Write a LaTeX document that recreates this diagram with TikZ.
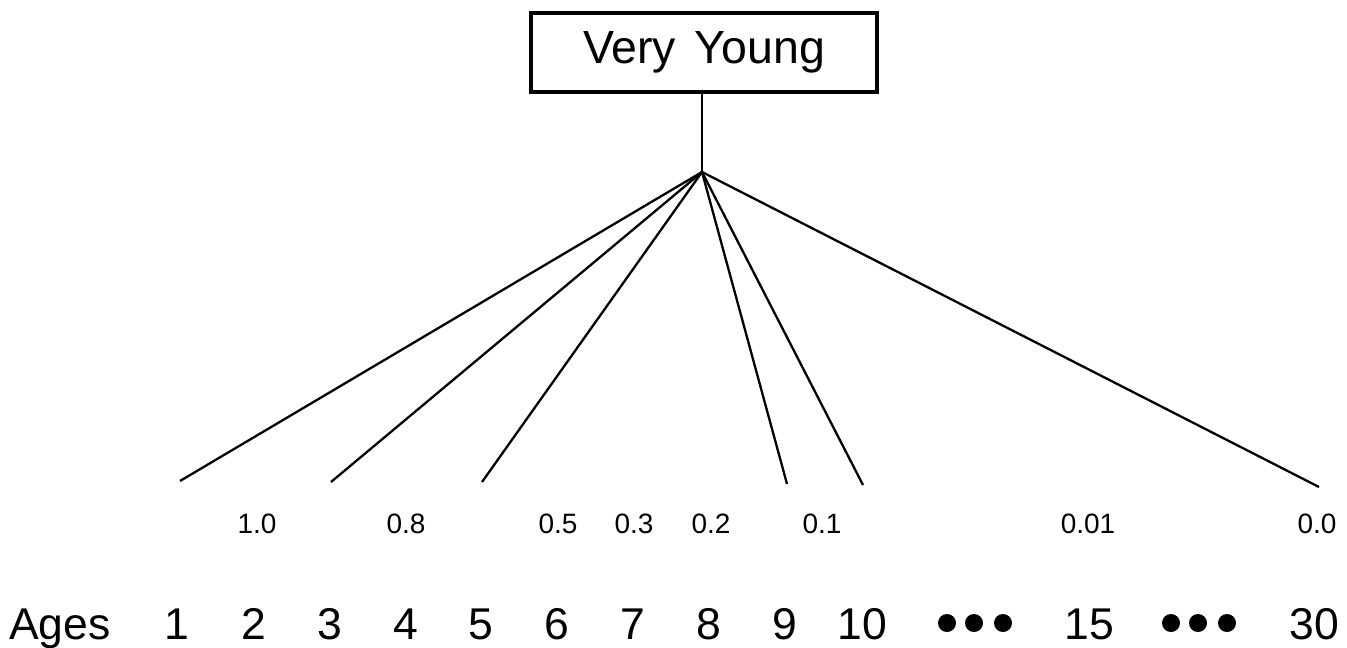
\documentclass[tikz,border=0pt]{standalone}
\usepackage{fontspec}
\setmainfont{Liberation Sans}
\begin{document}
\begin{tikzpicture}[x=1pt,y=-1pt,
  conn/.style={line width=2.3pt},
  titlebox/.style={draw,line width=3.5pt,minimum width=346pt,minimum height=79pt,inner sep=0pt,font=\fontsize{46.5}{50}\selectfont},
  val/.style={anchor=base,inner sep=0pt,font=\fontsize{28}{30}\selectfont},
  age/.style={anchor=base,inner sep=0pt,font=\fontsize{44.5}{48}\selectfont},
  dot/.style={circle,fill=black,inner sep=0pt,minimum size=18pt}]
\useasboundingbox (0,0) rectangle (1347,648);
\node[titlebox] (vy) at (704,52.5) {Very\hspace{0.4em}Young};
\coordinate (apex) at (702,172);
\coordinate (e1) at (180,481);
\coordinate (e3) at (331,482);
\coordinate (e5) at (482,482);
\coordinate (e9) at (787,484);
\coordinate (e10) at (863,485);
\coordinate (e30) at (1319,487);
\draw[conn] (vy.south -| apex) -- (apex);
\foreach \e in {e1,e3,e5,e9,e10,e30} \draw[conn] (apex) -- (\e);
% membership values
\node[val] (v2) at (257,533) {1.0};
\node[val] (v4) at (406,533) {0.8};
\node[val] (v6) at (558,533) {0.5};
\node[val] (v7) at (634,533) {0.3};
\node[val] (v8) at (711,533) {0.2};
\node[val] (v9) at (822,533) {0.1};
\node[val] (v15) at (1088,533) {0.01};
\node[val] (v30) at (1317,533) {0.0};
% ages
\node[age] (ages) at (60,639) {Ages};
\node[age] (a1) at (177,639) {1};
\node[age] (a2) at (254,639) {2};
\node[age] (a3) at (330,639) {3};
\node[age] (a4) at (406,639) {4};
\node[age] (a5) at (481,639) {5};
\node[age] (a6) at (557,639) {6};
\node[age] (a7) at (633,639) {7};
\node[age] (a8) at (709,639) {8};
\node[age] (a9) at (785,639) {9};
\node[age] (a10) at (862,639) {10};
\node[dot] (d1) at (947,623) {};
\node[dot] (d2) at (974,623) {};
\node[dot] (d3) at (1003,623) {};
\node[age] (a15) at (1089,639) {15};
\node[dot] (d4) at (1171,623) {};
\node[dot] (d5) at (1198,623) {};
\node[dot] (d6) at (1227,623) {};
\node[age] (a30) at (1314,639) {30};
\end{tikzpicture}
\end{document}
